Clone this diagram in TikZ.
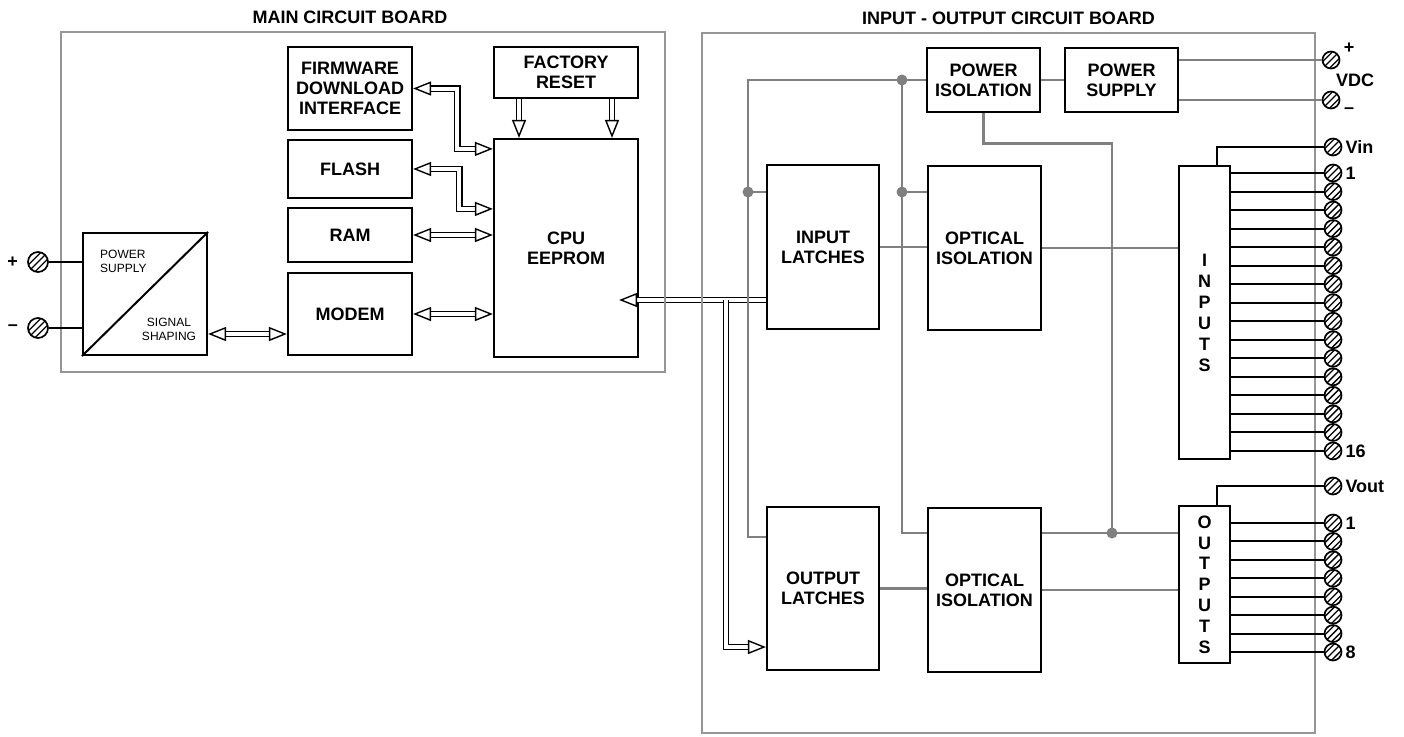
\documentclass[tikz,border=0pt]{standalone}
\usepackage{fontspec}
\setmainfont{Liberation Sans}
\usetikzlibrary{arrows.meta, positioning, calc}

\definecolor{wiregray}{RGB}{128,128,128}
\definecolor{framegray}{RGB}{150,150,150}

\begin{document}
\begin{tikzpicture}[
    x=1pt, y=-1pt,
    % === STYLES ===
    blk/.style={
        rectangle,
        draw=black,
        line width=2.2pt,
        fill=white,
        inner sep=0pt,
        align=center,
        font=\fontsize{18}{20}\selectfont\bfseries
    },
    board/.style={
        rectangle,
        draw=framegray,
        line width=2.8pt,
        inner sep=0pt
    },
    boardlabel/.style={
        font=\fontsize{18}{21}\selectfont\bfseries,
        inner sep=0pt
    },
    smalllabel/.style={
        font=\fontsize{12}{14}\selectfont,
        inner sep=0pt
    },
    termlabel/.style={
        font=\fontsize{18}{21}\selectfont\bfseries,
        inner sep=0pt
    },
    wire/.style={draw=wiregray, line width=2.8pt},
    pin/.style={draw=black, line width=2pt},
    bus/.style={
        double,
        double distance=4pt,
        line width=1.4pt,
        -{Triangle[open, length=18pt, width=14pt, line width=1.4pt]}
    },
    busboth/.style={
        bus,
        {Triangle[open, length=18pt, width=14pt, line width=1.4pt]}-{Triangle[open, length=18pt, width=14pt, line width=1.4pt]}
    },
    screw/.style={
        circle,
        draw=black,
        fill=white,
        line width=1.7pt,
        minimum size=#1,
        inner sep=0pt,
        path picture={
            \foreach \a/\b in {-11.4pt/-4.6pt, -8pt/-8pt, -4.6pt/-11.4pt}
                \draw[line width=1.3pt] ($(path picture bounding box.center)+(\a,\b)$) -- ++(16pt,16pt);
        }
    },
    screw/.default=17pt,
    dot/.style={circle, fill=wiregray, minimum size=11pt, inner sep=0pt}
]
\useasboundingbox (0,0) rectangle (1404,736);

% === MAIN CIRCUIT BOARD ===

% Power supply / signal shaping
\node[blk, minimum width=124pt, minimum height=122pt] (psbox) at (145,294) {};
\draw[line width=2pt] (psbox.south west) -- (psbox.north east);
\node[smalllabel, anchor=west, align=left] (pslabel) at (100,261) {POWER\\SUPPLY};
\node[smalllabel, align=center] (sslabel) at (169,329) {SIGNAL\\SHAPING};

% Memory and interfaces
\node[blk, minimum width=124pt, minimum height=83pt] (fdi) at (350,88.5) {FIRMWARE\\DOWNLOAD\\INTERFACE};
\node[blk, minimum width=124pt, minimum height=58pt] (flash) at (350,169) {FLASH};
\node[blk, minimum width=124pt, minimum height=54pt] (ram) at (350,235) {RAM};
\node[blk, minimum width=124pt, minimum height=82pt] (modem) at (350,314) {MODEM};

% Processor
\node[blk, minimum width=144pt, minimum height=51pt] (reset) at (566,72.5) {FACTORY\\RESET};
\node[blk, minimum width=144pt, minimum height=218pt] (cpu) at (566,248) {CPU\\EEPROM};

% Loop terminals
\node[screw=20pt] (tplus) at (38,262) {};
\node[screw=20pt] (tminus) at (38,328) {};
\node[termlabel, left=9pt of tplus] (lplus) {+};
\node[termlabel, left=9pt of tminus] (lminus) {--};

% === INPUT - OUTPUT CIRCUIT BOARD ===
\node[blk, minimum width=112pt, minimum height=164pt] (inlat) at (823,247) {INPUT\\LATCHES};
\node[blk, minimum width=112pt, minimum height=163pt] (outlat) at (823,588.5) {OUTPUT\\LATCHES};
\node[blk, minimum width=113pt, minimum height=64pt] (pwriso) at (983.5,80) {POWER\\ISOLATION};
\node[blk, minimum width=113pt, minimum height=64pt] (pwrsup) at (1121.5,80) {POWER\\SUPPLY};
\node[blk, minimum width=113pt, minimum height=164pt] (opt1) at (984.5,248) {OPTICAL\\ISOLATION};
\node[blk, minimum width=113pt, minimum height=164pt] (opt2) at (984.5,590) {OPTICAL\\ISOLATION};
\node[blk, font=\fontsize{18}{21}\selectfont\bfseries, minimum width=51pt, minimum height=293pt] (inputs) at (1204.5,312.5) {I\\N\\P\\U\\T\\S};
\node[blk, font=\fontsize{18}{20.8}\selectfont\bfseries, minimum width=51pt, minimum height=157pt] (outputs) at (1204.5,584.5) {O\\U\\T\\P\\U\\T\\S};

% === DATA BUSES ===
\draw[busboth] (fdi.east) -- ++(44,0) |- ($(cpu.north west)+(0,11)$);
\draw[busboth] (flash.east) -- ++(46,0) |- ($(cpu.north west)+(0,71)$);
\draw[busboth] (ram.east) -- (ram.east -| cpu.west);
\draw[busboth] (modem.east) -- (modem.east -| cpu.west);
\draw[busboth] ($(psbox.east)+(0,40)$) -- ($(modem.west)+(0,20)$);
\draw[bus] ($(reset.south)+(-47,0)$) -- ($(reset.south |- cpu.north)+(-47,0)$);
\draw[bus] ($(reset.south)+(46,0)$) -- ($(reset.south |- cpu.north)+(46,0)$);

% Latches to CPU
\coordinate (busL) at ($(inlat.west)+(0,53)$);
\draw[bus] (busL) -- ($(busL -| cpu.east)+(-20,0)$);
\draw[bus] ($(busL)+(-40,0)$) |- ($(outlat.west)+(0,58.5)$);

% === BOARD OUTLINES ===
\node[board, minimum width=604pt, minimum height=340pt] (mainboard) at (363,202) {};
\node[board, minimum width=613pt, minimum height=700pt] (ioboard) at (1008.5,383) {};
\node[boardlabel, above=7pt of mainboard, xshift=-13pt] (maintitle) {MAIN CIRCUIT BOARD};
\node[boardlabel, above=7pt of ioboard] (iotitle) {INPUT - OUTPUT CIRCUIT BOARD};

% === ISOLATED POWER ===
\coordinate (jA) at (902,80);
\coordinate (jB) at (748,192);
\coordinate (jC) at (902,192);
\coordinate (jD) at (1112,533);
\draw[wire] (pwriso.west) -- (jB |- jA) |- ($(outlat.west)+(0,-51.5)$);
\draw[wire] (jA) |- ($(opt2.west)+(0,-57)$);
\draw[wire] (jB) -- (jB -| inlat.west);
\draw[wire] (jC) -- (jC -| opt1.west);
\draw[wire] (pwriso.south) -- ++(0,30) -| (jD);
\draw[wire] (jD -| opt2.east) -- (jD -| outputs.west);
\draw[wire] (pwriso.east) -- (pwrsup.west);
\foreach \j in {jA,jB,jC,jD}
    \node[dot] (dot\j) at (\j) {};

% Signal path
\draw[wire] (inlat.east) -- (inlat.east -| opt1.west);
\draw[wire] (opt1.east) -- (opt1.east -| inputs.west);
\draw[wire] (outlat.east) -- (outlat.east -| opt2.west);
\draw[wire] (opt2.east) -- (opt2.east -| outputs.west);

% Loop wires
\draw[pin] (tplus) -- (tplus -| psbox.west);
\draw[pin] (tminus) -- (tminus -| psbox.west);

% === FIELD TERMINALS ===

% VDC supply
\node[screw] (tvp) at (1331,60) {};
\node[screw] (tvm) at (1331,100) {};
\draw[wire] ($(pwrsup.east)+(0,-20)$) -- (tvp);
\draw[wire] ($(pwrsup.east)+(0,20)$) -- (tvm);
\node[termlabel] (vdcp) at (1349,48) {+};
\node[termlabel] (vdcm) at (1349,111) {--};
\node[termlabel, anchor=west] (vdc) at (1336,80) {VDC};

% Inputs
\node[screw] (tvin) at (1333,147) {};
\draw[pin] ($(inputs.north)+(12.5,0)$) |- (tvin);
\node[termlabel, right=3pt of tvin] (lvin) {Vin};
\foreach \i in {1,...,16} {
    \node[screw] (tin\i) at (1333,{173+18.53*(\i-1)}) {};
    \draw[pin] (inputs.east |- tin\i) -- (tin\i);
}
\node[termlabel, right=3pt of tin1] (lin1) {1};
\node[termlabel, right=3pt of tin16] (lin16) {16};

% Outputs
\node[screw] (tvout) at (1333,486) {};
\draw[pin] ($(outputs.north)+(12.5,0)$) |- (tvout);
\node[termlabel, right=3pt of tvout] (lvout) {Vout};
\foreach \i in {1,...,8} {
    \node[screw] (tout\i) at (1333,{523+18.43*(\i-1)}) {};
    \draw[pin] (outputs.east |- tout\i) -- (tout\i);
}
\node[termlabel, right=3pt of tout1] (lout1) {1};
\node[termlabel, right=3pt of tout8] (lout8) {8};

\end{tikzpicture}
\end{document}
